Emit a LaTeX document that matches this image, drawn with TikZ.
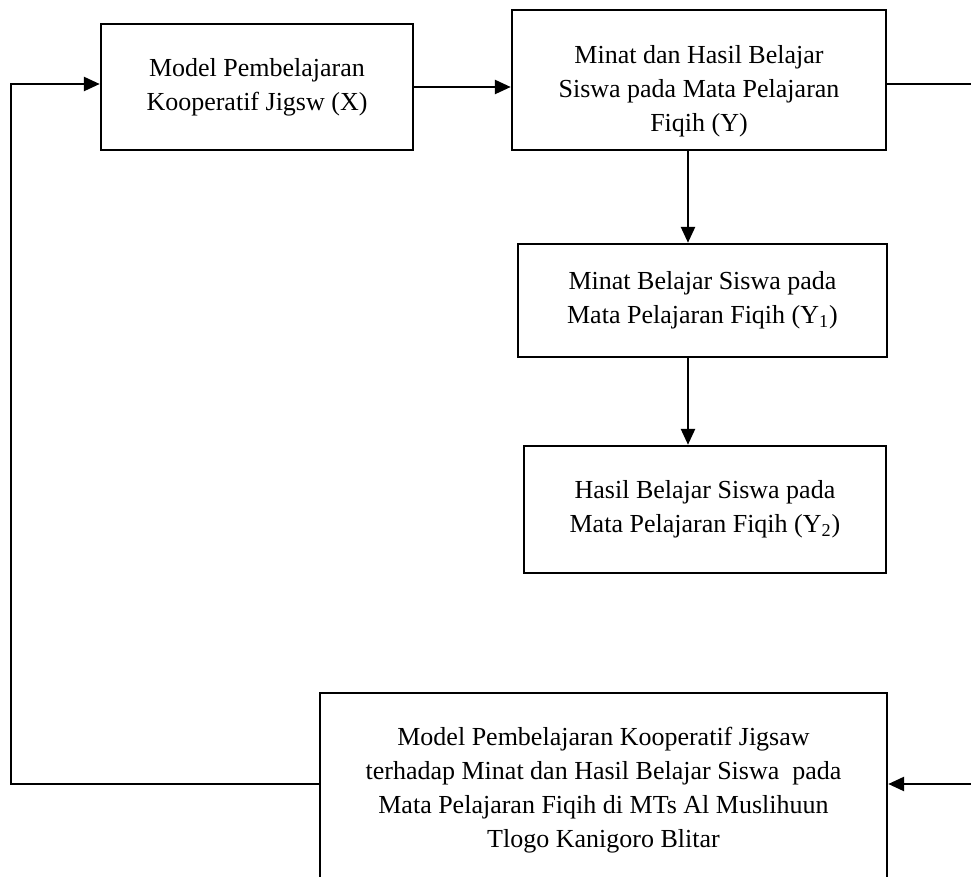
\documentclass[tikz,border=0pt]{standalone}
\usepackage{fontspec}
\setmainfont{Liberation Serif}
\usepackage{tikz}
\usetikzlibrary{arrows.meta}

\tikzset{
  kotak/.style={draw,line width=1.2pt,align=center,inner sep=0pt,
    font=\fontsize{13}{17}\selectfont},
  panah/.style={->,line width=1.3pt},
  garis/.style={line width=0.55pt}
}

\begin{document}
\begin{tikzpicture}[line cap=butt,line join=miter,>={Triangle[length=8pt,width=7pt]},x=0.5pt,y=-0.5pt]
\useasboundingbox (0,0) rectangle (971,877);
\clip (0,0) rectangle (971,877);
\node[kotak,minimum width=156pt,minimum height=63pt] (x) at (257,87)
  {Model Pembelajaran\\Kooperatif Jigsw (X)};
\node[kotak,minimum width=187pt,minimum height=70pt] (y) at (699,80)
  {\rule{0pt}{20pt}Minat dan Hasil Belajar\\Siswa pada Mata Pelajaran\\Fiqih (Y)};
\node[kotak,minimum width=184.5pt,minimum height=56.5pt] (y1) at (702.5,300.5)
  {Minat Belajar Siswa pada\\Mata Pelajaran Fiqih (Y\textsubscript{1})};
\node[kotak,minimum width=181pt,minimum height=63.5pt] (y2) at (705,509.5)
  {Hasil Belajar Siswa pada\\Mata Pelajaran Fiqih (Y\textsubscript{2})};
\node[kotak,minimum width=283.5pt,minimum height=97pt] (judul) at (603.5,790)
  {Model Pembelajaran Kooperatif Jigsaw\\terhadap Minat dan Hasil Belajar Siswa~ pada\\Mata Pelajaran Fiqih di MTs Al Muslihuun\\Tlogo Kanigoro Blitar};
\coordinate (lt) at (11,84);
\coordinate (lb) at (11,784);
\coordinate (rt) at (971,84);
\coordinate (rb) at (971,784);
\coordinate (v) at (688,0);
\draw[panah] (x.east) -- (y.west |- x.east);
\draw[panah] (y.south -| v) -- (y1.north -| v);
\draw[panah] (y1.south -| v) -- (y2.north -| v);
\draw[garis] (rt -| y.east) -- (rt);
\draw[panah] (rb) -- (rb -| judul.east);
\draw[garis] (lb -| judul.west) -- (lb) -- ([yshift=-0.6pt]lt);
\draw[panah] ([xshift=-0.3pt]lt) -- (lt -| x.west);
\end{tikzpicture}
\end{document}
